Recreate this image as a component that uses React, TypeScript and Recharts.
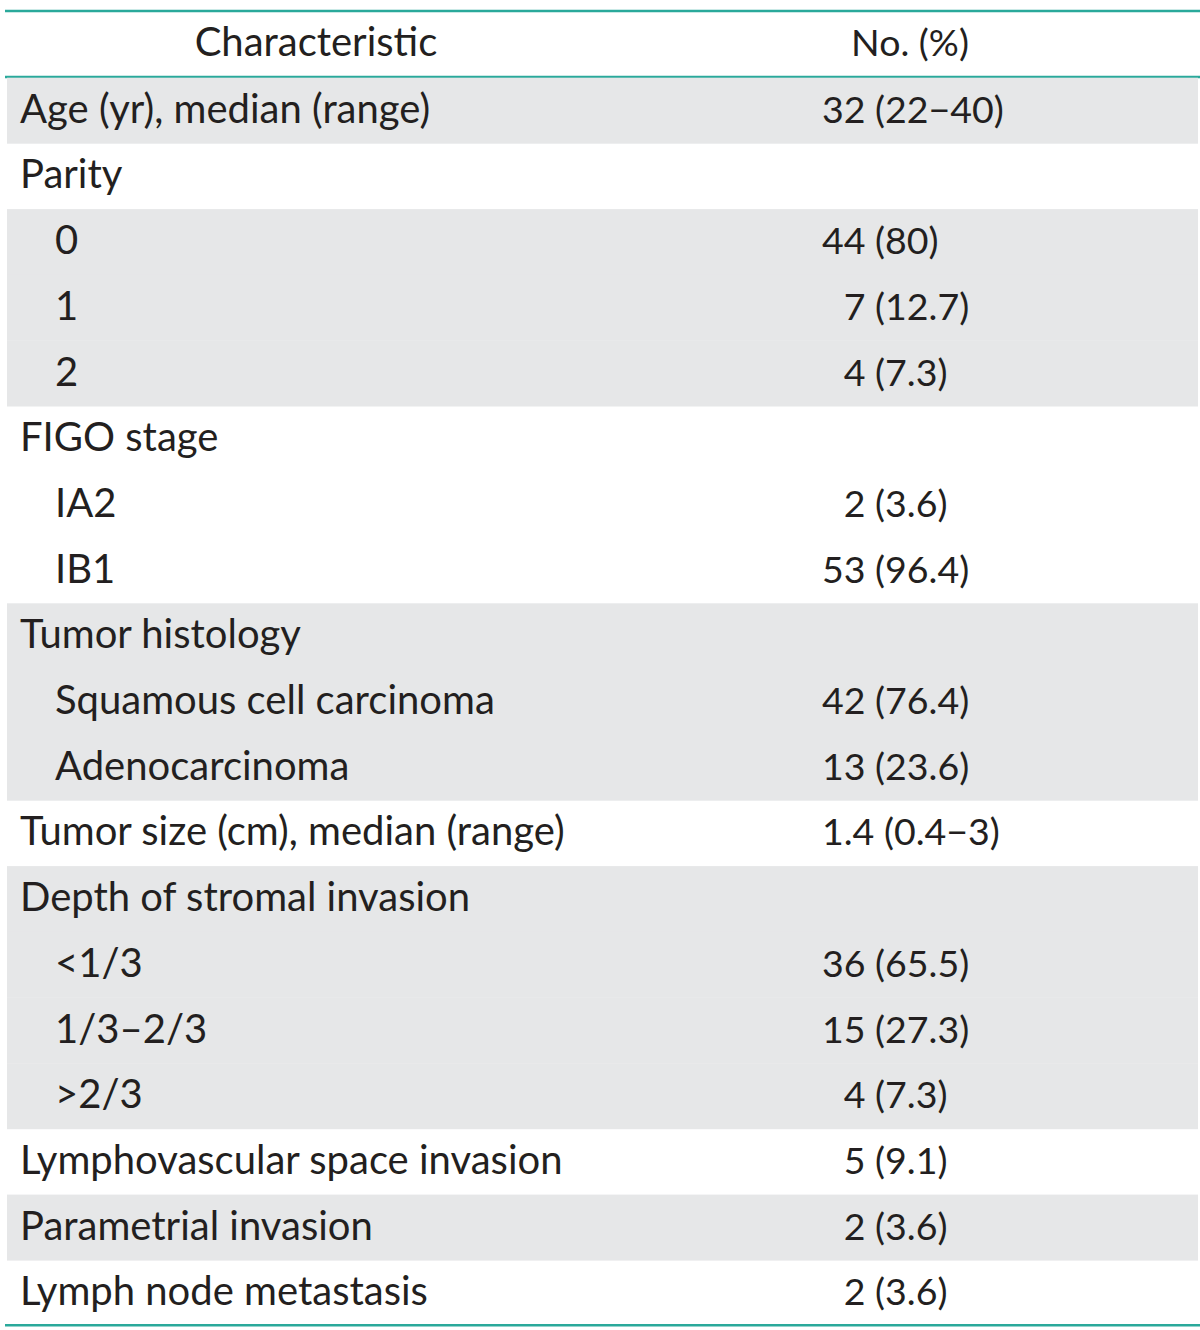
import React from "react";
import { BarChart, Bar, XAxis, YAxis } from "recharts";

const headerLabels = ["Characteristic", "No. (%)"];

const characteristics = [
  "Age (yr), median (range)",
  "Parity",
  "0",
  "1",
  "2",
  "FIGO stage",
  "IA2",
  "IB1",
  "Tumor histology",
  "Squamous cell carcinoma",
  "Adenocarcinoma",
  "Tumor size (cm), median (range)",
  "Depth of stromal invasion",
  "<1/3",
  "1/3\u20132/3",
  ">2/3",
  "Lymphovascular space invasion",
  "Parametrial invasion",
  "Lymph node metastasis",
];

const values = [
  "32 (22\u221240)",
  "",
  "44 (80)",
  "\u20077 (12.7)",
  "\u20074 (7.3)",
  "",
  "\u20072 (3.6)",
  "53 (96.4)",
  "",
  "42 (76.4)",
  "13 (23.6)",
  "1.4 (0.4\u22123)",
  "",
  "36 (65.5)",
  "15 (27.3)",
  "\u20074 (7.3)",
  "\u20075 (9.1)",
  "\u20072 (3.6)",
  "\u20072 (3.6)",
];

const levels = [0, 0, 1, 1, 1, 0, 1, 1, 0, 1, 1, 0, 0, 1, 1, 1, 0, 0, 0];

const shaded = [
  true, false, true, true, true, false, false, false, true, true, true,
  false, true, true, true, true, false, true, false,
];

const rows = [
  { label: headerLabels[0], value: headerLabels[1], level: -1, shaded: false, header: true, full: 1 },
  ...characteristics.map((c, i) => ({
    label: c,
    value: values[i],
    level: levels[i],
    shaded: shaded[i],
    header: false,
    full: 1,
  })),
];

const TEAL = "#2aa99b";
const GRAY = "#e6e7e8";
const INK = "#231f20";
const FONT = "Lato, 'Open Sans', sans-serif";
const FS = 40;
const FSV = 37.5;

const RowShape = (props: any) => {
  const { x, y, width, height, payload, index } = props;
  const cy = y + height / 2 + 13;
  const isLast = index === rows.length - 1;
  return (
    <g>
      {payload.shaded && (
        <rect x={x + 2} y={y + 1} width={width - 4} height={height} fill={GRAY} />
      )}
      {payload.header ? (
        <>
          <line x1={x} x2={x + width} y1={y} y2={y} stroke={TEAL} strokeWidth={2.5} />
          <line x1={x} x2={x + width} y1={y + height} y2={y + height} stroke={TEAL} strokeWidth={2.5} />
          <text x={316} y={cy - 1} textAnchor="middle" fontFamily={FONT} fontSize={FS} fill={INK}>
            {payload.label}
          </text>
          <text x={910} y={cy - 1} textAnchor="middle" fontFamily={FONT} fontSize={FSV} fill={INK}>
            {payload.value}
          </text>
        </>
      ) : (
        <>
          <text x={x + 15 + payload.level * 35} y={cy} fontFamily={FONT} fontSize={FS} fill={INK}>
            {payload.label}
          </text>
          <text x={x + 817} y={cy} fontFamily={FONT} fontSize={FSV} fill={INK}>
            {payload.value}
          </text>
        </>
      )}
      {isLast && (
        <line x1={x} x2={x + width} y1={y + height} y2={y + height} stroke={TEAL} strokeWidth={2.5} />
      )}
    </g>
  );
};

export default function App() {
  return (
    <div style={{ position: "absolute", left: 0, top: 0, background: "#fff" }}>
      <BarChart
        width={1200}
        height={1330}
        data={rows}
        layout="vertical"
        margin={{ top: 11, right: 0, bottom: 5, left: 5 }}
        barCategoryGap={0}
        barGap={0}
      >
        <XAxis type="number" domain={[0, 1]} hide />
        <YAxis type="category" dataKey="label" hide />
        <Bar dataKey="full" isAnimationActive={false} shape={<RowShape />} />
      </BarChart>
    </div>
  );
}
